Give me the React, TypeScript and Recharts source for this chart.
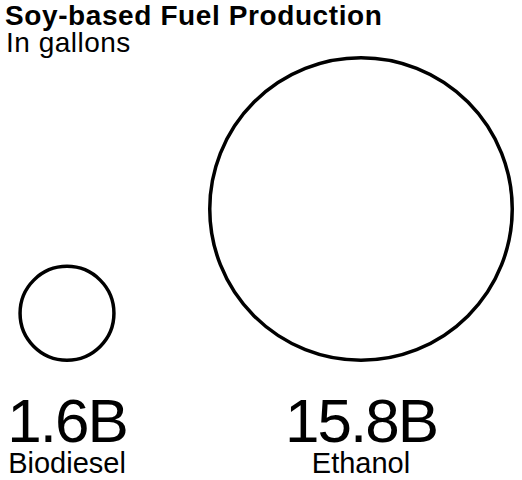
import { Scatter, ScatterChart, XAxis, YAxis, ZAxis } from "recharts";

const fuels = ["Biodiesel", "Ethanol"];
const gallonsBillions = [1.6, 15.8];
const valueLabels = ["1.6B", "15.8B"];

const FONT = '"Liberation Sans", Arial, Helvetica, sans-serif';
const MAX_R = 153;

const data = fuels.map((fuel, i) => ({
  fuel,
  gallons: gallonsBillions[i],
  base: 0,
}));

// circles sit on a shared baseline, area scaled by the z-axis
function BubbleShape(props: any) {
  const { cx, cy, size } = props;
  const r = Math.sqrt((size ?? 0) / Math.PI);
  return (
    <circle
      cx={cx}
      cy={cy - r}
      r={r - 1.75}
      fill="none"
      stroke="#000"
      strokeWidth={3.5}
    />
  );
}

function FuelTick({ x, y, payload }: any) {
  const i = payload?.index ?? fuels.indexOf(payload?.value);
  return (
    <g>
      <text
        x={x}
        y={y + 80}
        textAnchor="middle"
        fontFamily={FONT}
        fontSize={62}
        letterSpacing={-2}
        fill="#000"
      >
        {valueLabels[i]}
      </text>
      <text
        x={x}
        y={y + 111}
        textAnchor="middle"
        fontFamily={FONT}
        fontSize={29}
        fill="#000"
      >
        {payload.value}
      </text>
    </g>
  );
}

export default function App() {
  return (
    <div
      style={{
        position: "absolute",
        left: 0,
        top: 0,
        width: 522,
        height: 480,
        background: "#fff",
      }}
    >
      <svg
        width={522}
        height={70}
        style={{ position: "absolute", left: 0, top: 0 }}
      >
        <text
          x={5}
          y={25}
          fontFamily={FONT}
          fontSize={28}
          fontWeight={700}
          letterSpacing={0.6}
          fill="#000"
        >
          Soy-based Fuel Production
        </text>
        <text
          x={6}
          y={52}
          fontFamily={FONT}
          fontSize={28}
          letterSpacing={0.5}
          fill="#000"
        >
          In gallons
        </text>
      </svg>
      <ScatterChart
        width={522}
        height={480}
        margin={{ top: 60, right: 0, bottom: 0, left: 0 }}
      >
        <XAxis
          dataKey="fuel"
          type="category"
          scale="point"
          allowDuplicatedCategory={false}
          padding={{ left: 67, right: 161 }}
          height={118}
          axisLine={false}
          tickLine={false}
          tickSize={0}
          tickMargin={0}
          interval={0}
          tick={<FuelTick />}
        />
        <YAxis dataKey="base" type="number" domain={[0, 1]} hide />
        <ZAxis
          dataKey="gallons"
          type="number"
          domain={[0, 15.8]}
          range={[0, Math.PI * MAX_R * MAX_R]}
        />
        <Scatter
          data={data}
          shape={<BubbleShape />}
          isAnimationActive={false}
        />
      </ScatterChart>
    </div>
  );
}
